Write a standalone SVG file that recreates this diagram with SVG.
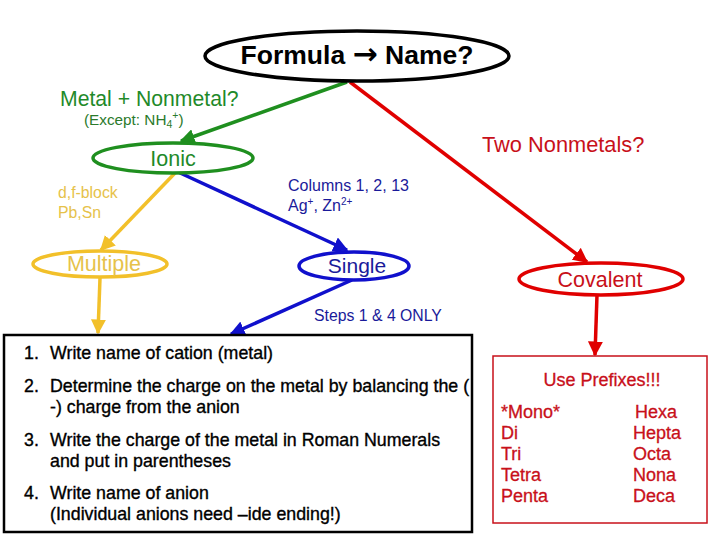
<svg xmlns="http://www.w3.org/2000/svg" width="720" height="540" viewBox="0 0 720 540">
<style>
text{font-family:"Liberation Sans",Arial,sans-serif}
.g{fill:#1f8a2a}.r{fill:#c8101a}.b{fill:#1a1a9a}.y{fill:#e6c24a}
.n{fill:none;stroke-width:3.5}
.sg{stroke:#1f8f1f}.sr{stroke:#e00000}.sb{stroke:#1010cc}.sy{stroke:#f2c02a}
.step{font-size:17.8px;fill:#000;stroke:#000;stroke-width:0.35}
.pre{font-size:18px;fill:#c8101a;stroke:#c8101a;stroke-width:0.3}
</style>
<defs>
<marker id="ag" viewBox="0 0 10 10" refX="9" refY="5" markerWidth="4.3" markerHeight="4.3" orient="auto"><path d="M0,0L10,5L0,10z" fill="#1f8f1f"/></marker>
<marker id="ar" viewBox="0 0 10 10" refX="9" refY="5" markerWidth="4.3" markerHeight="4.3" orient="auto"><path d="M0,0L10,5L0,10z" fill="#e00000"/></marker>
<marker id="ab" viewBox="0 0 10 10" refX="9" refY="5" markerWidth="4.3" markerHeight="4.3" orient="auto"><path d="M0,0L10,5L0,10z" fill="#1010cc"/></marker>
<marker id="ay" viewBox="0 0 10 10" refX="9" refY="5" markerWidth="4.3" markerHeight="4.3" orient="auto"><path d="M0,0L10,5L0,10z" fill="#f2c02a"/></marker>
<clipPath id="boxclip"><rect x="4" y="335" width="468" height="197"/></clipPath>
</defs>
<rect width="720" height="540" fill="#fff"/>
<g id="connectors">
<line class="n sg" x1="347" y1="82" x2="181" y2="141" marker-end="url(#ag)"/>
<line class="n sr" x1="350" y1="82" x2="587" y2="262" marker-end="url(#ar)"/>
<line class="n sy" x1="176" y1="172" x2="101" y2="250" marker-end="url(#ay)"/>
<line class="n sb" x1="178" y1="172" x2="347" y2="250" marker-end="url(#ab)"/>
<line class="n sy" x1="100" y1="278" x2="98" y2="333" marker-end="url(#ay)"/>
<line class="n sb" x1="352" y1="280" x2="231" y2="334" marker-end="url(#ab)"/>
<line class="n sr" x1="597" y1="295" x2="595" y2="355" marker-end="url(#ar)"/>
</g>
<g id="formula">
<ellipse cx="357" cy="56" rx="152" ry="25" fill="#fff" stroke="#000" stroke-width="3.5"/>
<text x="357" y="64" text-anchor="middle" font-size="26.5" font-weight="bold">Formula <tspan font-family="DejaVu Sans" font-size="30">→</tspan> Name?</text>
</g>
<g id="metal-nonmetal">
<text class="g" x="60" y="106" font-size="21.2">Metal + Nonmetal?</text>
<text x="84" y="125" font-size="15.3" fill="#2b7a2b">(Except: NH<tspan font-size="10.5" dy="3">4</tspan><tspan font-size="10.5" dy="-9">+</tspan><tspan dy="6">)</tspan></text>
</g>
<g id="two-nonmetals">
<text class="r" x="482" y="152" font-size="21.8">Two Nonmetals?</text>
</g>
<g id="ionic">
<ellipse cx="173" cy="158" rx="80" ry="15" fill="#fff" stroke="#1f8f1f" stroke-width="3.5"/>
<text class="g" x="173" y="166" text-anchor="middle" font-size="21.5">Ionic</text>
</g>
<g id="df-block">
<text class="y" x="58" y="198" font-size="15.8">d,f-block</text>
<text class="y" x="58" y="218" font-size="15.8">Pb,Sn</text>
</g>
<g id="columns">
<text class="b" x="288" y="191" font-size="16">Columns 1, 2, 13</text>
<text class="b" x="288" y="211" font-size="16">Ag<tspan font-size="10" dy="-6">+</tspan><tspan dy="6">, Zn</tspan><tspan font-size="10" dy="-6">2+</tspan></text>
</g>
<g id="multiple">
<ellipse cx="100" cy="264" rx="67" ry="13" fill="#fff" stroke="#f2c02a" stroke-width="3.5"/>
<text class="y" x="104" y="271" text-anchor="middle" font-size="21.5">Multiple</text>
</g>
<g id="single">
<ellipse cx="354" cy="266" rx="55" ry="14" fill="#fff" stroke="#1010cc" stroke-width="3.5"/>
<text class="b" x="357" y="273" text-anchor="middle" font-size="21">Single</text>
</g>
<g id="covalent">
<ellipse cx="601" cy="279" rx="82" ry="16" fill="#fff" stroke="#e00000" stroke-width="3.5"/>
<text class="r" x="600" y="287" text-anchor="middle" font-size="21.5">Covalent</text>
</g>
<g id="steps-only">
<text class="b" x="314" y="321" font-size="15.8">Steps 1 &amp; 4 ONLY</text>
</g>
<g id="steps-box">
<g clip-path="url(#boxclip)">
<text class="step" x="24" y="359">1.</text><text class="step" x="50" y="359">Write name of cation (metal)</text>
<text class="step" x="24" y="392">2.</text><text class="step" x="50" y="392">Determine the charge on the metal by balancing the (</text>
<text class="step" x="50" y="413">-) charge from the anion</text>
<text class="step" x="24" y="446">3.</text><text class="step" x="50" y="446">Write the charge of the metal in Roman Numerals</text>
<text class="step" x="50" y="467">and put in parentheses</text>
<text class="step" x="24" y="499">4.</text><text class="step" x="50" y="499">Write name of anion</text>
<text class="step" x="50" y="520">(Individual anions need –ide ending!)</text>
</g>
<rect x="4" y="335" width="468" height="197" fill="none" stroke="#000" stroke-width="2.5"/>
</g>
<g id="prefixes">
<rect x="493" y="356" width="214" height="167" fill="#fff" stroke="#c8101a" stroke-width="1.5"/>
<text class="pre" x="602" y="386" text-anchor="middle">Use Prefixes!!!</text>
<text class="pre" x="501" y="418">*Mono*</text>
<text class="pre" x="501" y="439">Di</text>
<text class="pre" x="501" y="460">Tri</text>
<text class="pre" x="501" y="481">Tetra</text>
<text class="pre" x="501" y="502">Penta</text>
<text class="pre" x="635" y="418">Hexa</text>
<text class="pre" x="633" y="439">Hepta</text>
<text class="pre" x="633" y="460">Octa</text>
<text class="pre" x="633" y="481">Nona</text>
<text class="pre" x="633" y="502">Deca</text>
</g>
</svg>
